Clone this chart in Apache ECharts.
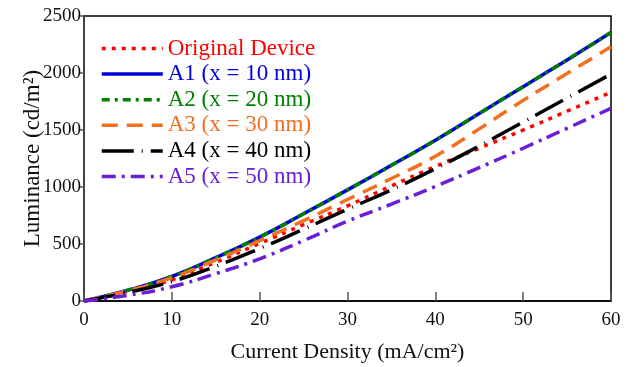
<!DOCTYPE html>
<html>
<head>
<meta charset="utf-8">
<script src="https://cdn.jsdelivr.net/npm/echarts@6/dist/echarts.min.js"></script>
<style>
  html, body { margin: 0; padding: 0; background: #fff; }
  #chart { width: 627px; height: 367px; }
</style>
</head>
<body>
<div id="chart"></div>
<script>
// current density (mA/cm2)
const density = [0, 5, 10, 15, 20, 25, 30, 35, 40, 45, 50, 55, 60];

// luminance (cd/m2)
const original = [0, 85, 185, 340, 505, 670, 835, 1010, 1180, 1340, 1500, 1665, 1830];
const a1 = [0, 95, 215, 380, 560, 765, 975, 1190, 1410, 1645, 1880, 2115, 2355];
const a2 = [0, 95, 215, 380, 560, 765, 975, 1190, 1410, 1645, 1880, 2115, 2355];
const a3 = [0, 90, 205, 360, 530, 705, 890, 1075, 1270, 1510, 1760, 1995, 2230];
const a4 = [0, 75, 170, 305, 460, 630, 805, 975, 1160, 1360, 1570, 1780, 1990];
const a5 = [0, 50, 125, 240, 370, 530, 700, 850, 1005, 1170, 1340, 1515, 1690];

const seriesDefs = [
  { name: 'Original Device', data: original, color: '#ff0000', dash: [4, 6] },
  { name: 'A1 (x = 10 nm)', data: a1, color: '#0000dd', dash: 'solid' },
  { name: 'A2 (x = 20 nm)', data: a2, color: '#008000', dash: [8, 5, 3, 5] },
  { name: 'A3 (x = 30 nm)', data: a3, color: '#f07020', dash: [16, 9] },
  { name: 'A4 (x = 40 nm)', data: a4, color: '#000000', dash: [32, 8, 1, 8] },
  { name: 'A5 (x = 50 nm)', data: a5, color: '#6a1fd6', dash: [14, 6, 3, 6] },
];

const font = 'Liberation Serif';
const chart = echarts.init(document.getElementById('chart'));

chart.setOption({
  animation: false,
  backgroundColor: '#fff',
  grid: {
    left: 84, right: 16, top: 16, bottom: 66,
    outerBoundsMode: 'none',
    show: true, borderColor: '#000', borderWidth: 1.5,
  },
  legend: {
    orient: 'vertical',
    left: 95,
    top: 32,
    itemWidth: 61,
    itemHeight: 20,
    itemGap: 2.6,
    itemStyle: { opacity: 0 },
    lineStyle: { width: 3.5 },
    textStyle: { fontFamily: font, fontSize: 23, lineHeight: 23 },
    data: seriesDefs.map((s) => ({ name: s.name, textStyle: { color: s.color } })),
  },
  xAxis: {
    type: 'value',
    min: 0,
    max: 60,
    interval: 10,
    name: 'Current Density (mA/cm²)',
    nameLocation: 'middle',
    nameGap: 40,
    nameMoveOverlap: false,
    nameTextStyle: { fontFamily: font, fontSize: 22, color: '#111' },
    axisLine: { lineStyle: { color: '#000', width: 1.5 } },
    axisTick: { inside: true, length: 9, lineStyle: { color: '#555', width: 1.5 } },
    axisLabel: { fontFamily: font, fontSize: 19, color: '#111', margin: 10 },
    splitLine: { show: false },
  },
  yAxis: {
    type: 'value',
    min: 0,
    max: 2500,
    interval: 500,
    name: 'Luminance (cd/m²)',
    nameLocation: 'middle',
    nameRotate: 90,
    nameGap: 40,
    nameMoveOverlap: false,
    nameTextStyle: { fontFamily: font, fontSize: 23, color: '#111' },
    axisLine: { show: true, lineStyle: { color: '#444', width: 1.5 } },
    axisTick: { show: true, length: 5, lineStyle: { color: '#555', width: 1.5 } },
    axisLabel: { fontFamily: font, fontSize: 19, color: '#111', margin: 3, formatter: (v) => String(v) },
    splitLine: { show: false },
  },
  series: seriesDefs.map((s) => ({
    name: s.name,
    type: 'line',
    smooth: true,
    symbol: 'none',
    data: density.map((x, i) => [x, s.data[i]]),
    itemStyle: { color: s.color },
    lineStyle: { color: s.color, width: 3.5, type: s.dash },
  })),
});
</script>
</body>
</html>
